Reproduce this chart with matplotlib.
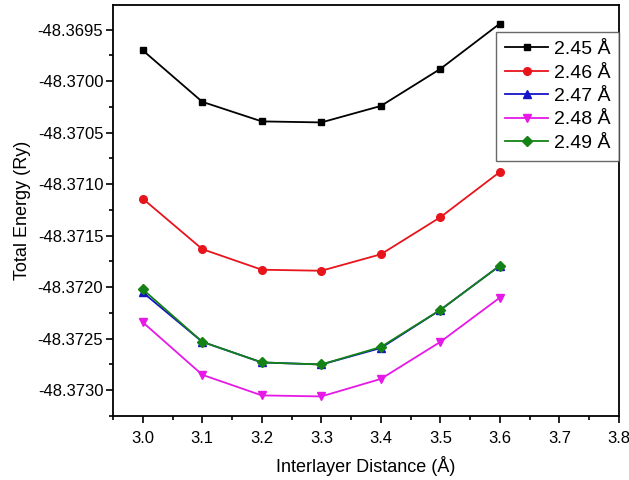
import matplotlib
matplotlib.use("Agg")
import matplotlib.pyplot as plt
from matplotlib.ticker import MultipleLocator, FormatStrFormatter

plt.rcParams['font.family'] = ['Liberation Sans', 'DejaVu Sans']

distance = [3.0, 3.1, 3.2, 3.3, 3.4, 3.5, 3.6]
labels = ['2.45 Å', '2.46 Å', '2.47 Å', '2.48 Å', '2.49 Å']
e_245 = [-48.36970, -48.37020, -48.37039, -48.37040, -48.37024, -48.36988, -48.36944]
e_246 = [-48.37114, -48.37163, -48.37183, -48.37184, -48.37168, -48.37132, -48.37088]
e_247 = [-48.37205, -48.37253, -48.37273, -48.37275, -48.37259, -48.37222, -48.37179]
e_248 = [-48.37234, -48.37285, -48.37305, -48.37306, -48.37289, -48.37253, -48.37210]
e_249 = [-48.37202, -48.37253, -48.37273, -48.37275, -48.37258, -48.37222, -48.37179]

series = [e_245, e_246, e_247, e_248, e_249]
colors = ['black', '#e8141c', '#1414c8', '#e619e6', '#148214']
markers = ['s', 'o', '^', 'v', 'D']
msizes = [5, 5.5, 5.5, 6, 5]

fig = plt.figure(figsize=(6.29, 4.80), dpi=100)
ax = fig.add_axes([113/629, 1-416/480, (619-113)/629, (416-5)/480])

for y, c, m, ms, lab in zip(series, colors, markers, msizes, labels):
    ax.plot(distance, y, color=c, marker=m, markersize=ms, linewidth=1.3, label=lab)

ax.set_xlim(2.95, 3.8)
ax.set_ylim(-48.37325, -48.36926)
ax.xaxis.set_major_locator(MultipleLocator(0.1))
ax.xaxis.set_minor_locator(MultipleLocator(0.05))
ax.yaxis.set_major_locator(MultipleLocator(0.0005))
ax.yaxis.set_minor_locator(MultipleLocator(0.00025))
ax.xaxis.set_major_formatter(FormatStrFormatter('%.1f'))
ax.yaxis.set_major_formatter(FormatStrFormatter('%.4f'))

ax.tick_params(axis='both', which='major', direction='out', length=5, width=1.2, labelsize=12)
ax.tick_params(axis='x', which='major', pad=6)
ax.tick_params(axis='y', which='major', pad=2)
ax.tick_params(axis='both', which='minor', direction='out', length=3, width=1.2)
for s in ax.spines.values():
    s.set_linewidth(1.3)

ax.set_xlabel('Interlayer Distance (Å)', fontsize=13, labelpad=7)
ax.set_ylabel('Total Energy (Ry)', fontsize=13, labelpad=5)

leg = ax.legend(loc='upper right', bbox_to_anchor=(1.0, 0.935), fontsize=14,
                frameon=True, fancybox=False, edgecolor='#444444',
                handlelength=2.2, handletextpad=0.3, labelspacing=0.3,
                borderpad=0.45, borderaxespad=0.0)
leg.get_frame().set_linewidth(1.0)

fig.savefig('out.png', dpi=100)
